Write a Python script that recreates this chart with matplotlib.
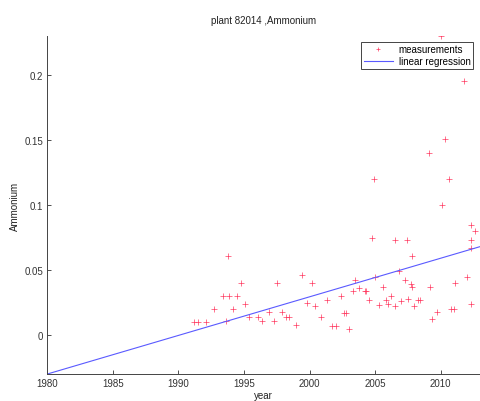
import matplotlib
matplotlib.use("Agg")
import matplotlib.pyplot as plt

years = [1991.2, 1991.5, 1992.1, 1992.7, 1993.4, 1993.6, 1993.8, 1993.9, 1994.2, 1994.5,
         1994.8, 1995.1, 1995.4, 1996.1, 1996.4, 1996.9, 1997.3, 1997.5, 1997.9, 1998.2,
         1998.4, 1999.0, 1999.4, 1999.8, 2000.2, 2000.4, 2000.9, 2001.3, 2001.7, 2002.0,
         2002.4, 2002.6, 2002.8, 2003.0, 2003.3, 2003.5, 2003.8, 2004.2, 2004.3, 2004.5,
         2004.8, 2004.9, 2005.0, 2005.3, 2005.6, 2005.8, 2006.0, 2006.2, 2006.5, 2006.5,
         2006.8, 2007.0, 2007.3, 2007.4, 2007.5, 2007.7, 2007.8, 2007.8, 2008.0, 2008.3,
         2008.4, 2009.1, 2009.2, 2009.3, 2009.7, 2010.0, 2010.1, 2010.3, 2010.6, 2010.8,
         2011.0, 2011.1, 2011.8, 2012.0, 2012.3, 2012.3, 2012.3, 2012.3, 2012.6]
ammonium = [0.010, 0.010, 0.010, 0.020, 0.030, 0.011, 0.061, 0.030, 0.020, 0.030,
            0.040, 0.024, 0.014, 0.014, 0.011, 0.018, 0.011, 0.040, 0.018, 0.014,
            0.014, 0.008, 0.046, 0.025, 0.040, 0.022, 0.014, 0.027, 0.007, 0.007,
            0.030, 0.017, 0.017, 0.005, 0.034, 0.042, 0.036, 0.034, 0.034, 0.027,
            0.075, 0.120, 0.045, 0.023, 0.037, 0.027, 0.024, 0.030, 0.022, 0.073,
            0.049, 0.026, 0.042, 0.073, 0.028, 0.039, 0.037, 0.061, 0.022, 0.027,
            0.027, 0.140, 0.037, 0.012, 0.018, 0.230, 0.100, 0.151, 0.120, 0.020,
            0.020, 0.040, 0.195, 0.045, 0.024, 0.067, 0.073, 0.085, 0.080]

# regression line end points
reg_years = [1980, 2013]
reg_values = [-0.030, 0.068]

x_ticks = [1980, 1985, 1990, 1995, 2000, 2005, 2010]
y_ticks = [0, 0.05, 0.1, 0.15, 0.2]
y_tick_labels = ["0", "0.05", "0.1", "0.15", "0.2"]

plt.rcParams["font.family"] = ["Liberation Sans", "DejaVu Sans"]
plt.rcParams["font.size"] = 7

fig = plt.figure(figsize=(4.81, 4.02), dpi=100)
ax = fig.add_axes([0.098, 0.067, 0.9, 0.841])

ax.plot(years, ammonium, "+", color="#ff3a60", markersize=5, markeredgewidth=0.5,
        label="measurements")
ax.plot(reg_years, reg_values, "-", color="#5a5aff", linewidth=0.8,
        label="linear regression")

ax.set_xlim(1980, 2013)
ax.set_ylim(-0.03, 0.23)
ax.set_xticks(x_ticks)
ax.set_yticks(y_ticks)
ax.set_yticklabels(y_tick_labels)
ax.tick_params(direction="in", length=3, width=0.6, colors="#333333", pad=3)

for side in ["top", "right"]:
    ax.spines[side].set_visible(False)
for side in ["left", "bottom"]:
    ax.spines[side].set_linewidth(0.7)
    ax.spines[side].set_color("#444444")

ax.set_title("plant 82014 ,Ammonium", fontsize=7, pad=9, color="#222222")
ax.set_xlabel("year", labelpad=1, color="#222222")
ax.set_ylabel("Ammonium", labelpad=3, color="#222222")

leg = ax.legend(loc="upper right", bbox_to_anchor=(0.996, 0.998), fontsize=7,
                fancybox=False, framealpha=1, handlelength=3.0, markerscale=0.7,
                borderpad=0.3, labelspacing=0.2, handletextpad=0.6)
leg.get_frame().set_edgecolor("#444444")
leg.get_frame().set_linewidth(0.7)

fig.savefig("out.png", dpi=100)
